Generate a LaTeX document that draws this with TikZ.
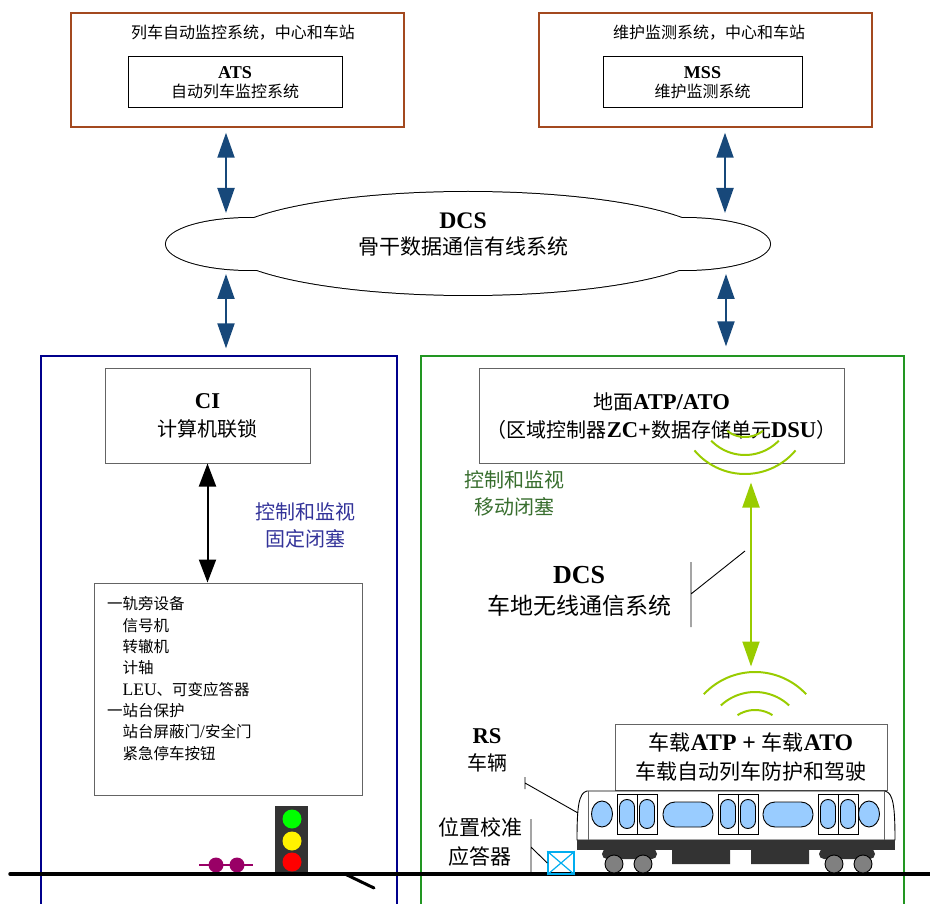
\documentclass[tikz,border=0pt]{standalone}
\usepackage{fontspec}
\setmainfont{Noto Sans CJK SC}
\newfontfamily\lat[Scale=1.13]{Liberation Serif}
\usetikzlibrary{arrows.meta}
\newcommand{\B}[1]{{\lat\bfseries #1}}
\newcommand{\fs}[2]{\fontsize{#1}{#2}\selectfont}
\definecolor{frameorange}{RGB}{163,73,31}
\definecolor{linkblue}{RGB}{23,72,122}
\definecolor{areablue}{RGB}{0,0,140}
\definecolor{labelblue}{RGB}{51,51,153}
\definecolor{areagreen}{RGB}{34,150,34}
\definecolor{labelgreen}{RGB}{56,110,46}
\definecolor{radiolime}{RGB}{153,204,0}
\definecolor{axlepurple}{RGB}{153,0,102}
\definecolor{winblue}{RGB}{153,204,255}
\definecolor{bodydark}{RGB}{51,51,51}
\definecolor{boxgray}{RGB}{100,100,100}

\begin{document}
\begin{tikzpicture}[x=1pt, y=-1pt,
  box/.style={draw=boxgray, line width=1pt, fill=white, align=center, inner sep=0pt},
  txt/.style={inner sep=0pt, align=center},
  link/.style={{Triangle[width=17pt,length=25pt]}-{Triangle[width=17pt,length=25pt]}, line width=2pt},
  wave/.style={radiolime, line width=2pt},
  callout/.style={line width=0.9pt},
  win/.style={fill=winblue, draw=black, line width=0.9pt}]
  \useasboundingbox (0,0) rectangle (930,904);

  % centre and station
  \node[draw=frameorange, line width=1.5pt, minimum width=333pt, minimum height=114pt] (atsframe) at (237.5,70) {};
  \node[txt, font=\fs{16}{16}] (atstitle) at (243,33) {列车自动监控系统，中心和车站};
  \node[box, draw=black, minimum width=214pt, minimum height=51pt, font=\fs{16}{19}] (ats) at (235,82.5) {\B{ATS}\\自动列车监控系统};
  \node[draw=frameorange, line width=1.5pt, minimum width=333pt, minimum height=114pt] (mssframe) at (705.5,70) {};
  \node[txt, font=\fs{16}{16}] (msstitle) at (709,33) {维护监测系统，中心和车站};
  \node[box, draw=black, minimum width=199pt, minimum height=51pt, font=\fs{16}{19}] (mss) at (702.5,82.5) {\B{MSS}\\维护监测系统};

  % backbone cloud
  \draw[line width=2pt] (250,244) ellipse [x radius=84pt, y radius=26pt] (468,243.5) ellipse [x radius=246pt, y radius=51.5pt] (685,244) ellipse [x radius=85pt, y radius=26pt];
  \fill[white] (250,244) ellipse [x radius=84pt, y radius=26pt] (468,243.5) ellipse [x radius=246pt, y radius=51.5pt] (685,244) ellipse [x radius=85pt, y radius=26pt];
  \node[txt, font=\fs{21}{26}] (dcswired) at (463,235) {\B{DCS}\\骨干数据通信有线系统};
  \coordinate (cloudTL) at (226,213);
  \coordinate (cloudBL) at (226,274);
  \coordinate (cloudTR) at (725,213);
  \coordinate (cloudBR) at (726,274);

  % areas
  \node[draw=areablue, line width=1.3pt, minimum width=356pt, minimum height=559pt] (ciarea) at (219,635.5) {};
  \node[draw=areagreen, line width=1.3pt, minimum width=483pt, minimum height=559pt] (zcarea) at (662.5,635.5) {};

  \draw[link, draw=linkblue, fill=linkblue, shorten <=5pt] (cloudTL |- atsframe.south) -- (cloudTL);
  \draw[link, draw=linkblue, fill=linkblue, shorten <=5pt] (cloudTR |- mssframe.south) -- (cloudTR);
  \draw[link, draw=linkblue, fill=linkblue, shorten >=7pt] (cloudBL) -- (cloudBL |- ciarea.north);
  \draw[link, draw=linkblue, fill=linkblue, shorten >=9pt] (cloudBR) -- (cloudBR |- zcarea.north);

  % interlocking
  \node[box, minimum width=205pt, minimum height=94pt, font=\fs{20}{28}] (ci) at (207.5,416) {\B{CI}\\计算机联锁};
  \node[box, minimum width=268pt, minimum height=212pt] (equip) at (228,689) {};
  \foreach \t [count=\i] in {一轨旁设备, \phantom{一}信号机, \phantom{一}转辙机, \phantom{一}计轴, \phantom{一}{\lat LEU}、可变应答器, 一站台保护, \phantom{一}站台屏蔽门{\lat /}安全门, \phantom{一}紧急停车按钮}
    \node[anchor=west, inner sep=0pt, font=\fs{15.5}{18}] (eq\i) at (107,{604+21.3*(\i-1)}) {\t};
  \draw[link, draw=black, fill=black, {Triangle[width=17pt,length=23pt]}-{Triangle[width=17pt,length=23pt]}] (ci.south) -- (ci.south |- equip.north);
  \node[txt, text=labelblue, font=\fs{20}{27}] (fixedblock) at (305,525.5) {控制和监视\\固定闭塞};

  % signal and axle counter
  \node[fill=bodydark, minimum width=33pt, minimum height=69pt, inner sep=0pt] (signal) at (291.5,840.5) {};
  \fill[green] (292,819) circle (9.5pt);
  \fill[yellow] (292,841) circle (9.5pt);
  \fill[red] (292,862) circle (9.5pt);
  \draw[axlepurple, line width=2pt] (199,865) -- (253,865);
  \fill[axlepurple] (216,865) circle (7.5pt) (237,865) circle (7.5pt);

  % track
  \draw[line width=3.5pt, line cap=round] (10,874) -- (935,874);
  \draw[line width=3pt, line cap=round] (345,874) -- (374,888);

  % zone controller
  \node[box, minimum width=365pt, minimum height=94pt, font=\fs{20}{28}] (gatp) at (661.5,416) {地面\B{ATP/ATO}\\（区域控制器\B{ZC+}数据存储单元\B{DSU}）};
  \node[txt, text=labelgreen, font=\fs{20}{27}] (movingblock) at (514,493.5) {控制和监视\\移动闭塞};
  \node[txt, font=\fs{23}{31}] (dcsradio) at (579,591.5) {\B{DCS}\\车地无线通信系统};
  \draw[callout] (691,562) -- (691,627) (691,594) -- (745,551);
  \foreach \r/\a in {29/38, 47/46, 66/50}
    \draw[wave] plot[domain={90-\a}:{90+\a}, samples=30] ({745+\r*cos(\x)}, {408+\r*sin(\x)});

  % train
  \node[box, minimum width=272pt, minimum height=66pt, font=\fs{21}{29}] (obatp) at (751,757) {车载\B{ATP + }车载\B{ATO}\\车载自动列车防护和驾驶};
  \foreach \r/\a in {32/33, 50/43, 70/47}
    \draw[wave] plot[domain={90-\a}:{90+\a}, samples=30] ({755+\r*cos(\x)}, {742-\r*sin(\x)});
  \draw[link, draw=radiolime, fill=radiolime, shorten <=19pt, shorten >=57pt] (obatp.north |- gatp.south) -- (obatp.north);

  \draw[fill=white, line width=0.9pt] (577,840) -- (895,840) .. controls (895,805) and (893,793) .. (885,791) -- (587,791) .. controls (579,793) and (577,805) .. (577,840) -- cycle;
  \draw[boxgray] (588,791) -- (588,840) (884,791) -- (884,840);
  \fill[bodydark] (577,840) rectangle (895,850);
  \fill[bodydark, rounded corners=5pt] (602,849) rectangle (657,859) (819,849) rectangle (875,859);
  \fill[bodydark] (672,850) rectangle (730,864) (751,850) rectangle (809,864);
  \foreach \w in {614,643,834,863}
    \draw[fill=gray, line width=0.9pt] (\w,864) circle (9pt);
  \draw[win] (602,814) ellipse [x radius=10.5pt, y radius=13pt] (869,814) ellipse [x radius=10.5pt, y radius=13pt];
  \foreach \d in {617,718,818} {
    \draw (\d,794) rectangle ++(40,40) (\d+20,794) -- ++(0,40);
    \draw[win, rounded corners=7.5pt] (\d+2.5,799.5) rectangle ++(15,29) (\d+22.5,799.5) rectangle ++(15,29);
  }
  \draw[win, rounded corners=12pt] (663,802) rectangle (713,827) (763,802) rectangle (813,827);

  \node[txt, font=\fs{20}{27}] (rs) at (487,750.5) {\B{RS}\\车辆};
  \draw[callout] (525,777) -- (525,789) (525,783) -- (578,813);

  % balise
  \node[txt, font=\fs{21}{29}] (balisetext) at (480,842.5) {位置校准\\应答器};
  \node[draw=cyan, line width=1.5pt, minimum width=26pt, minimum height=22pt, inner sep=0pt] (balise) at (561,863) {};
  \draw[cyan, line width=1.2pt] (balise.north west) -- (balise.south east) (balise.north east) -- (balise.south west);
  \draw[callout] (531,819) -- (531,874) (531,847) -- (balise.west);
\end{tikzpicture}
\end{document}
